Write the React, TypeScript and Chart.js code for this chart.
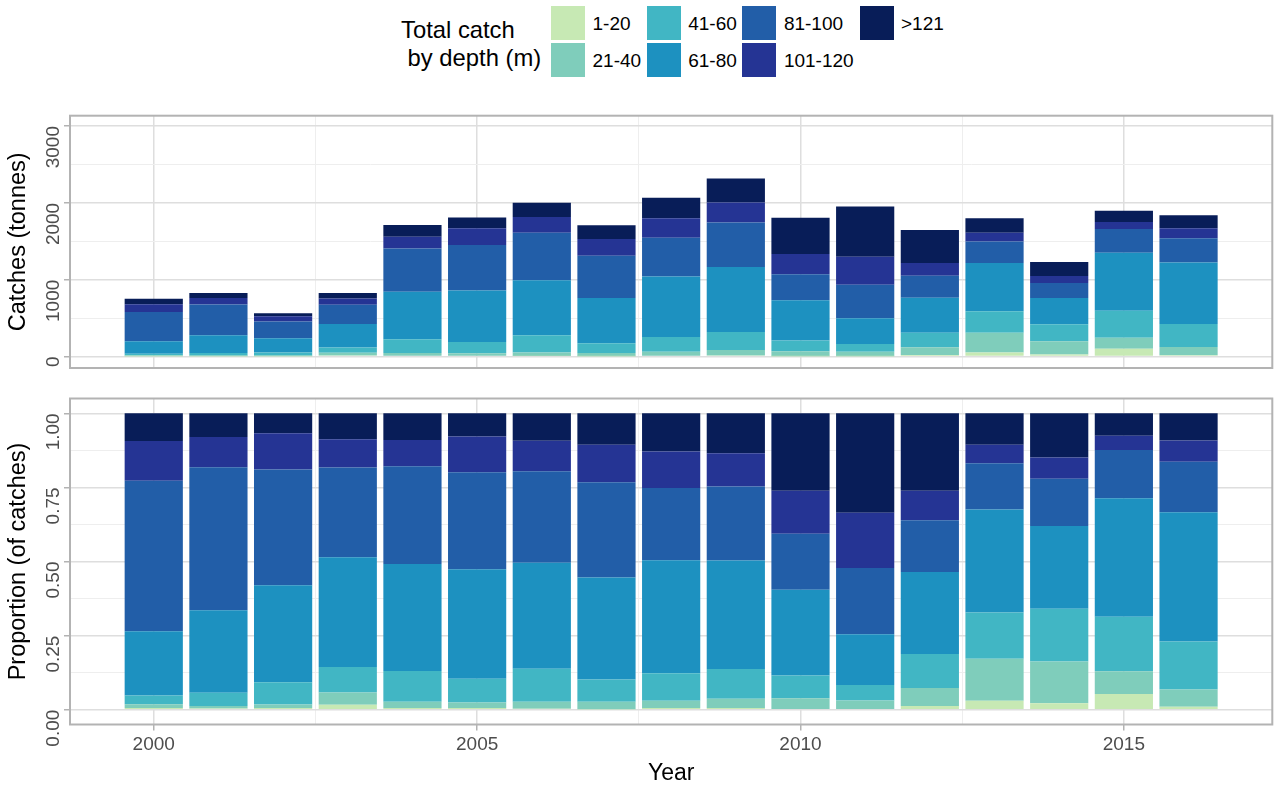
import React, { useEffect, useRef } from 'react';
import { Chart, registerables } from 'chart.js';

Chart.register(...registerables);

const FONT = '"Liberation Sans", Arial, sans-serif';

// ---- data ----
const years = [2000, 2001, 2002, 2003, 2004, 2005, 2006, 2007, 2008, 2009, 2010, 2011, 2012, 2013, 2014, 2015, 2016];
const depthLabels = ['1-20', '21-40', '41-60', '61-80', '81-100', '101-120', '>121'];
const depthColors = ['#c7e9b4', '#7fcdbb', '#41b6c4', '#1d91c0', '#225ea8', '#253494', '#081d58'];

// catches (tonnes) by depth band
const catch1to20 = [4, 3, 3, 14, 10, 11, 6, 3, 12, 14, 4, 4, 21, 54, 27, 100, 18];
const catch21to40 = [10, 7, 7, 34, 36, 33, 48, 43, 50, 72, 65, 57, 99, 256, 173, 146, 107];
const catch41to60 = [22, 37, 42, 71, 178, 145, 222, 128, 192, 232, 139, 102, 190, 281, 219, 349, 298];
const catch61to80 = [163, 231, 185, 306, 618, 669, 717, 588, 787, 848, 523, 334, 456, 625, 343, 757, 802];
const catch81to100 = [382, 399, 220, 250, 564, 592, 617, 549, 504, 579, 341, 437, 287, 281, 196, 309, 313];
const catch101to120 = [101, 85, 69, 79, 152, 219, 206, 217, 254, 260, 262, 363, 165, 113, 89, 91, 132];
const catchOver121 = [70, 66, 38, 72, 154, 141, 186, 181, 266, 313, 471, 656, 430, 191, 183, 144, 169];

const xTicks = [2000, 2002.5, 2005, 2007.5, 2010, 2012.5, 2015];
const catchTicks = [0, 500, 1000, 1500, 2000, 2500, 3000];
const propTicks = [0, 0.125, 0.25, 0.375, 0.5, 0.625, 0.75, 0.875, 1];

const GRID = '#dedede';
const BORDER = '#b3b3b3';
const TICKTEXT = '#4d4d4d';

const panelBorder = {
  id: 'panelBorder',
  afterDraw(chart: any) {
    const { ctx, chartArea: a } = chart;
    ctx.save();
    ctx.strokeStyle = BORDER;
    ctx.lineWidth = 2;
    ctx.strokeRect(a.left, a.top, a.right - a.left, a.bottom - a.top);
    ctx.restore();
  },
};

function makeConfig(prop: boolean): any {
  const series = [catch1to20, catch21to40, catch41to60, catch61to80, catch81to100, catch101to120, catchOver121];
  const totals = years.map((_, j) => series.reduce((s, arr) => s + arr[j], 0));
  const datasets = depthLabels.map((label, i) => ({
    label,
    data: years.map((yr, j) => ({ x: yr, y: prop ? series[i][j] / totals[j] : series[i][j] })),
    backgroundColor: depthColors[i],
    borderWidth: 0,
    barPercentage: 0.9,
    categoryPercentage: 1.0,
  }));
  const yTickVals = prop ? propTicks : catchTicks;
  const isMajorY = (v: number) =>
    prop ? Math.abs(v * 4 - Math.round(v * 4)) < 1e-9 : Math.abs(v % 1000) < 1e-9;
  const isMajorX = (v: number) => Math.abs(v % 5) < 1e-9;

  return {
    type: 'bar',
    data: { datasets },
    plugins: [panelBorder],
    options: {
      responsive: false,
      animation: false,
      events: [],
      layout: {
        padding: prop
          ? { top: 18.5, bottom: 0, left: 0, right: 6.7 }
          : { top: 15.7, bottom: 12, left: 0, right: 6.7 },
      },
      plugins: { legend: { display: false }, tooltip: { enabled: false } },
      scales: {
        x: {
          type: 'linear',
          stacked: true,
          offset: false,
          min: 1998.705,
          max: 2017.295,
          bounds: 'data',
          afterBuildTicks: (scale: any) => {
            scale.ticks = xTicks.map((v) => ({ value: v }));
          },
          afterFit: (scale: any) => {
            scale.height = prop ? 62.5 : 0;
            scale.paddingLeft = 0;
            scale.paddingRight = 0;
          },
          border: { display: false },
          grid: {
            offset: false,
            drawTicks: prop,
            tickLength: 6,
            color: (c: any) => (c.tick && isMajorX(c.tick.value) ? GRID : '#eeeeee'),
            lineWidth: (c: any) => (c.tick && isMajorX(c.tick.value) ? 1.5 : 1),
            tickColor: (c: any) => (c.tick && isMajorX(c.tick.value) ? BORDER : 'rgba(0,0,0,0)'),
            tickWidth: 1.5,
          },
          ticks: {
            display: prop,
            autoSkip: false,
            maxRotation: 0,
            minRotation: 0,
            padding: 3,
            color: TICKTEXT,
            font: { size: 19, family: FONT },
            callback: (v: any) => (isMajorX(Number(v)) ? String(v) : ''),
          },
          title: {
            display: prop,
            text: 'Year',
            color: '#000',
            font: { size: 23, family: FONT },
            padding: { top: 0, bottom: 0 },
          },
        },
        y: {
          type: 'linear',
          stacked: true,
          min: prop ? -0.05 : -149,
          max: prop ? 1.05 : 3134,
          afterBuildTicks: (scale: any) => {
            scale.ticks = yTickVals.map((v) => ({ value: v }));
          },
          afterFit: (scale: any) => {
            scale.width = 70;
            scale.paddingTop = 0;
            scale.paddingBottom = 0;
          },
          border: { display: false },
          grid: {
            drawTicks: true,
            tickLength: 6,
            color: (c: any) => (c.tick && isMajorY(c.tick.value) ? GRID : '#eeeeee'),
            lineWidth: (c: any) => (c.tick && isMajorY(c.tick.value) ? 1.5 : 1),
            tickColor: (c: any) => (c.tick && isMajorY(c.tick.value) ? BORDER : 'rgba(0,0,0,0)'),
            tickWidth: 1.5,
          },
          ticks: {
            autoSkip: false,
            minRotation: 90,
            maxRotation: 90,
            padding: 10.3,
            crossAlign: 'near',
            color: TICKTEXT,
            font: { size: 19, family: FONT },
            callback: (v: any) => {
              const n = Number(v);
              if (!isMajorY(n)) return '';
              return prop ? n.toFixed(2) : String(Math.round(n));
            },
          },
          title: {
            display: true,
            text: prop ? 'Proportion (of catches)' : 'Catches (tonnes)',
            color: '#000',
            font: { size: 23.5, family: FONT },
            padding: { top: 4, bottom: 0 },
          },
        },
      },
    },
  };
}

const legendCols = [551, 646.7, 742.4, 859.5];
const legendRows = [6, 43];

export default function App() {
  const topRef = useRef<HTMLCanvasElement>(null);
  const botRef = useRef<HTMLCanvasElement>(null);

  useEffect(() => {
    Chart.defaults.font.family = FONT;
    const c1 = new Chart(topRef.current as HTMLCanvasElement, makeConfig(false));
    const c2 = new Chart(botRef.current as HTMLCanvasElement, makeConfig(true));
    return () => {
      c1.destroy();
      c2.destroy();
    };
  }, []);

  return (
    <div
      style={{
        position: 'absolute',
        left: 0,
        top: 0,
        width: 1279,
        height: 787,
        background: '#fff',
        fontFamily: FONT,
        overflow: 'hidden',
      }}
    >
      <div
        style={{
          position: 'absolute',
          left: 401,
          top: 15.8,
          fontSize: 23.8,
          lineHeight: '28.5px',
          whiteSpace: 'pre',
          color: '#000',
        }}
      >
        {'Total catch\n by depth (m)'}
      </div>
      {depthLabels.map((lab, i) => {
        const col = Math.floor(i / 2);
        const row = i % 2;
        return (
          <div
            key={lab}
            style={{
              position: 'absolute',
              left: legendCols[col],
              top: legendRows[row],
              height: 34,
              display: 'flex',
              alignItems: 'center',
            }}
          >
            <div style={{ width: 34, height: 34, background: depthColors[i] }} />
            <span style={{ marginLeft: 7.5, fontSize: 19, color: '#000', position: 'relative', top: 1 }}>{lab}</span>
          </div>
        );
      })}
      <canvas
        ref={topRef}
        width={1279}
        height={280}
        style={{ position: 'absolute', left: 0, top: 100, display: 'block' }}
      />
      <canvas
        ref={botRef}
        width={1279}
        height={407}
        style={{ position: 'absolute', left: 0, top: 380, display: 'block' }}
      />
    </div>
  );
}
